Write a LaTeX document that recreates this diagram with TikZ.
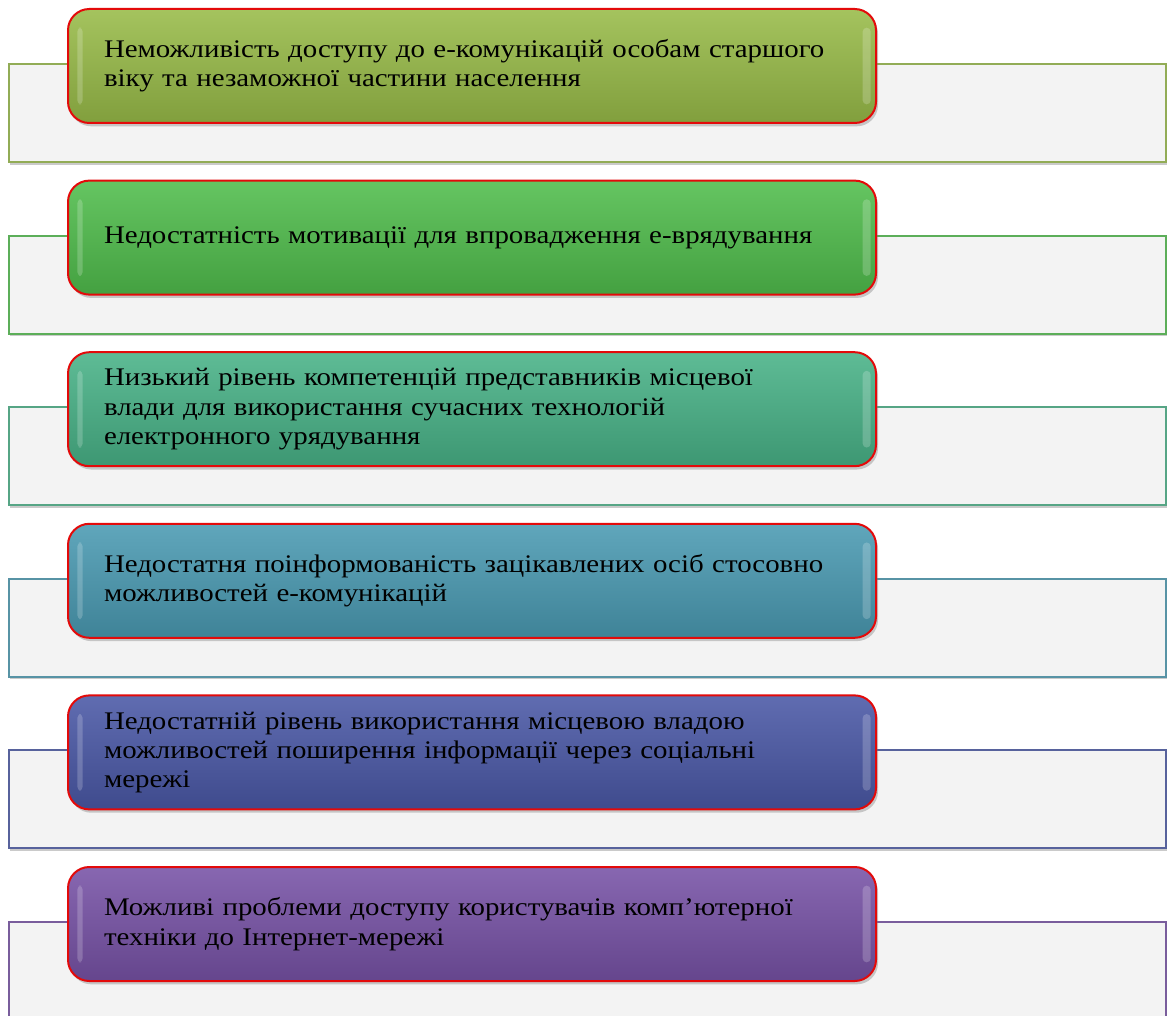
\documentclass[tikz,border=0pt]{standalone}
\usepackage{fontspec}
\setmainfont[FakeStretch=1.14]{Liberation Serif}
\usetikzlibrary{shadows}

\definecolor{backgray}{HTML}{F3F3F3}
\definecolor{edgered}{HTML}{E30A0A}
\definecolor{olivebox}{HTML}{98BB48}
\definecolor{greenbox}{HTML}{50BD4C}
\definecolor{tealbox}{HTML}{48B287}
\definecolor{cyanbox}{HTML}{4A9AB2}
\definecolor{bluebox}{HTML}{4A58A6}
\definecolor{violetbox}{HTML}{7752A6}

\tikzset{
  back/.style={draw=#1!75!gray, line width=1.5pt, fill=backgray, anchor=north west,
    minimum width=867.75pt, minimum height=73.5pt, inner sep=0pt,
    drop shadow={shadow xshift=1pt, shadow yshift=-2pt, opacity=.35, fill=black!60}},
  problem/.style={draw=edgered, line width=1.5pt, rounded corners=16pt,
    top color=#1!88!white, bottom color=#1!85!black, anchor=north west,
    minimum width=606pt, minimum height=85.5pt, text width=552pt,
    inner xsep=27pt, inner ysep=0pt, align=left,
    font=\fontsize{19}{22}\selectfont,
    drop shadow={shadow xshift=1.5pt, shadow yshift=-2.5pt, opacity=.4, fill=black!50},
    path picture={
      \fill[white, opacity=.2, rounded corners=3pt]
        ([xshift=7pt, yshift=-14pt]path picture bounding box.north west) rectangle
        ([xshift=11pt, yshift=14pt]path picture bounding box.south west);
      \fill[white, opacity=.2, rounded corners=3pt]
        ([xshift=-4pt, yshift=-14pt]path picture bounding box.north east) rectangle
        ([xshift=-10pt, yshift=14pt]path picture bounding box.south east);
    }}
}

\begin{document}
\begin{tikzpicture}[x=0.75pt, y=-0.75pt]
        \useasboundingbox (0, 0) rectangle (1168, 1016);

        \node[back=olivebox] (b1) at (8, 63) {};
        \node[problem=olivebox] (p1) at (67, 8)
          {Неможливість доступу до е-комунікацій особам старшого\\віку та незаможної частини населення};

        \node[back=greenbox] (b2) at (8, 234.6) {};
        \node[problem=greenbox] (p2) at (67, 179.6)
          {Недостатність мотивації для впровадження е-врядування};

        \node[back=tealbox] (b3) at (8, 406.2) {};
        \node[problem=tealbox] (p3) at (67, 351.2)
          {Низький рівень компетенцій представників місцевої\\влади для використання сучасних технологій\\електронного урядування};

        \node[back=cyanbox] (b4) at (8, 577.8) {};
        \node[problem=cyanbox] (p4) at (67, 522.8)
          {Недостатня поінформованість зацікавлених осіб стосовно\\можливостей е-комунікацій};

        \node[back=bluebox] (b5) at (8, 749.4) {};
        \node[problem=bluebox] (p5) at (67, 694.4)
          {Недостатній рівень використання місцевою владою\\можливостей поширення інформації через соціальні\\мережі};

        \node[back=violetbox] (b6) at (8, 921) {};
        \node[problem=violetbox] (p6) at (67, 866)
          {Можливі проблеми доступу користувачів комп’ютерної\\техніки до Інтернет-мережі};
      \end{tikzpicture}
\end{document}
